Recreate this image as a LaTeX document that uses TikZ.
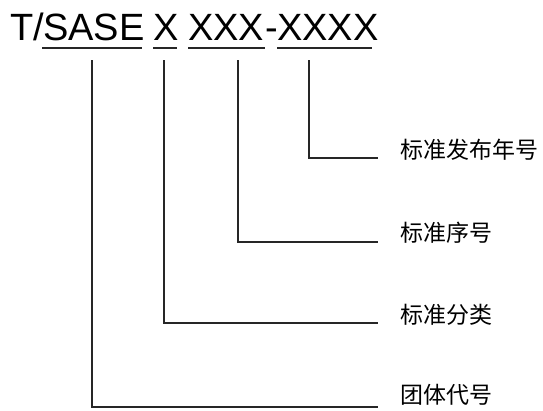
\documentclass[tikz,border=0pt]{standalone}
\usepackage{fontspec}
\setmainfont{Liberation Sans}
\newfontfamily\cjk{Noto Sans CJK SC}
\begin{document}
\begin{tikzpicture}[x=1pt,y=-1pt,
  code/.style={inner sep=0pt,anchor=base west,font=\fontsize{38}{38}\selectfont},
  lbl/.style={inner sep=0pt,anchor=west,font=\cjk\fontsize{23}{23}\selectfont},
  ln/.style={line width=1.3pt,black!85}]
\useasboundingbox (0,0) rectangle (543,410);
% code string
\node[code] (t) at (10,40) {T/};
\node[code] (sase) at (43,40) {SASE};
\node[code] (x) at (153.5,40) {X};
\node[code] (xxx) at (188,40) {XXX};
\node[code] (dash) at (265,40) {-};
\node[code] (xxxx) at (277,40) {XXXX};
% underlines
\draw[ln] (42,48) -- (142,48);
\draw[ln] (153,48) -- (177,48);
\draw[ln] (188,48) -- (265,48);
\draw[ln] (277,48) -- (372,48);
% labels
\node[lbl] (l1) at (400,150) {标准发布年号};
\node[lbl] (l2) at (400,233) {标准序号};
\node[lbl] (l3) at (400,315) {标准分类};
\node[lbl] (l4) at (400,395) {团体代号};
% connector ends
\coordinate (s1) at (309,60);
\coordinate (s2) at (238,60);
\coordinate (s3) at (164,60);
\coordinate (s4) at (92,60);
\coordinate (e1) at (378,158);
\coordinate (e2) at (378,242);
\coordinate (e3) at (378,323);
\coordinate (e4) at (378,407);
\draw[ln] (s1) |- (e1);
\draw[ln] (s2) |- (e2);
\draw[ln] (s3) |- (e3);
\draw[ln] (s4) |- (e4);
\end{tikzpicture}
\end{document}
